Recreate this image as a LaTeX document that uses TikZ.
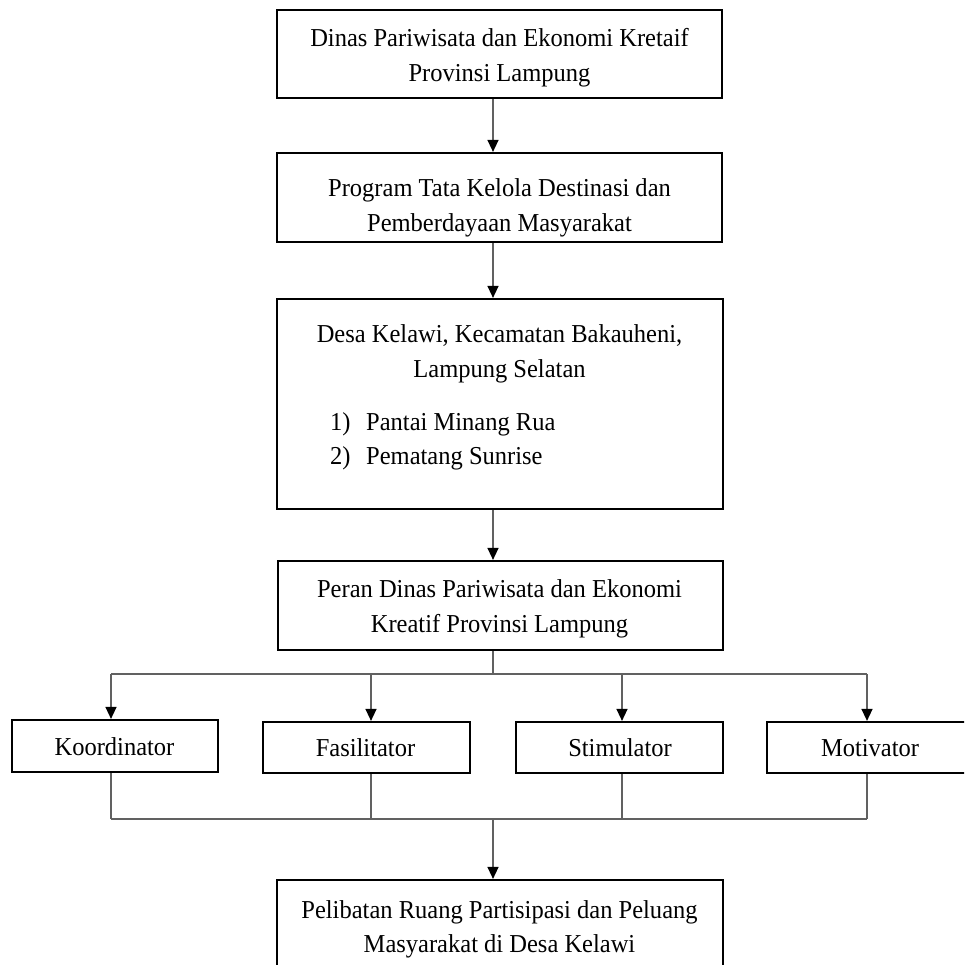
\documentclass[tikz,border=0pt]{standalone}
\usepackage{fontspec}
\setmainfont{Liberation Serif}[FakeStretch=0.95]
\usetikzlibrary{arrows.meta}
\begin{document}
\begin{tikzpicture}[x=1pt,y=-1pt,
  box/.style={draw=black,line width=2.2pt,rectangle,inner sep=0pt},
  ln/.style={anchor=base,inner sep=0pt,font=\fontsize{25.8}{35}\selectfont},
  lnw/.style={anchor=base west,inner sep=0pt,font=\fontsize{25.8}{35}\selectfont},
  conn/.style={draw=black!62,line width=1.4pt},
  arr/.style={conn,-{Triangle[length=12pt,width=11pt,fill=black,color=black]}}]
\useasboundingbox (0,0) rectangle (964,965);
\clip (0,0) rectangle (964,965);
% main boxes
\node[box,minimum width=445pt,minimum height=88pt] (b1) at (499.5,54) {};
\node[box,minimum width=445pt,minimum height=89pt] (b2) at (499.5,197.5) {};
\node[box,minimum width=446pt,minimum height=210pt] (b3) at (500,404) {};
\node[box,minimum width=445pt,minimum height=89pt] (b4) at (500.5,605.5) {};
\node[box,minimum width=446pt,minimum height=100pt] (b5) at (500,930) {};
% role boxes
\node[box,minimum width=206pt,minimum height=52pt] (k) at (115,746) {};
\node[box,minimum width=207pt,minimum height=51pt] (f) at (366.5,747.5) {};
\node[box,minimum width=207pt,minimum height=51pt] (s) at (619.5,747.5) {};
\node[box,minimum width=207pt,minimum height=51pt] (m) at (870.5,747.5) {};
% texts
\node[ln] (t1a) at (499.5,47) {Dinas Pariwisata dan Ekonomi Kretaif};
\node[ln] (t1b) at (499.5,82) {Provinsi Lampung};
\node[ln] (t2a) at (499.5,197) {Program Tata Kelola Destinasi dan};
\node[ln] (t2b) at (499.5,232) {Pemberdayaan Masyarakat};
\node[ln] (t3a) at (499.5,342) {Desa Kelawi, Kecamatan Bakauheni,};
\node[ln] (t3b) at (499.5,377) {Lampung Selatan};
\node[lnw] (n1) at (330,430) {1)};
\node[lnw] (i1) at (366,430) {Pantai Minang Rua};
\node[lnw] (n2) at (330,464) {2)};
\node[lnw] (i2) at (366,464) {Pematang Sunrise};
\node[ln] (t4a) at (499.5,597) {Peran Dinas Pariwisata dan Ekonomi};
\node[ln] (t4b) at (499.5,632) {Kreatif Provinsi Lampung};
\node[ln] (tk) at (114.5,755) {Koordinator};
\node[ln] (tf) at (365.5,756) {Fasilitator};
\node[ln] (ts) at (620,756) {Stimulator};
\node[ln] (tm) at (870,756) {Motivator};
\node[ln] (t5a) at (499.5,918) {Pelibatan Ruang Partisipasi dan Peluang};
\node[ln] (t5b) at (499.5,952) {Masyarakat di Desa Kelawi};
% connector coordinates
\coordinate (tr) at (493,0);
\coordinate (xk) at (111,0);
\coordinate (xf) at (371,0);
\coordinate (xs) at (622,0);
\coordinate (xm) at (867,0);
\coordinate (top) at (0,674);
\coordinate (bot) at (0,819);
% trunk arrows
\draw[arr] (b1.south -| tr) -- (b2.north -| tr);
\draw[arr] (b2.south -| tr) -- (b3.north -| tr);
\draw[arr] (b3.south -| tr) -- (b4.north -| tr);
% branching
\draw[conn] (b4.south -| tr) -- (top -| tr);
\draw[conn] (top -| xk) -- (top -| xm);
\draw[arr] (top -| xk) -- (k.north -| xk);
\draw[arr] (top -| xf) -- (f.north -| xf);
\draw[arr] (top -| xs) -- (s.north -| xs);
\draw[arr] (top -| xm) -- (m.north -| xm);
% merging
\draw[conn] (k.south -| xk) -- (bot -| xk);
\draw[conn] (f.south -| xf) -- (bot -| xf);
\draw[conn] (s.south -| xs) -- (bot -| xs);
\draw[conn] (m.south -| xm) -- (bot -| xm);
\draw[conn] (bot -| xk) -- (bot -| xm);
\draw[arr] (bot -| tr) -- (b5.north -| tr);
\end{tikzpicture}
\end{document}
